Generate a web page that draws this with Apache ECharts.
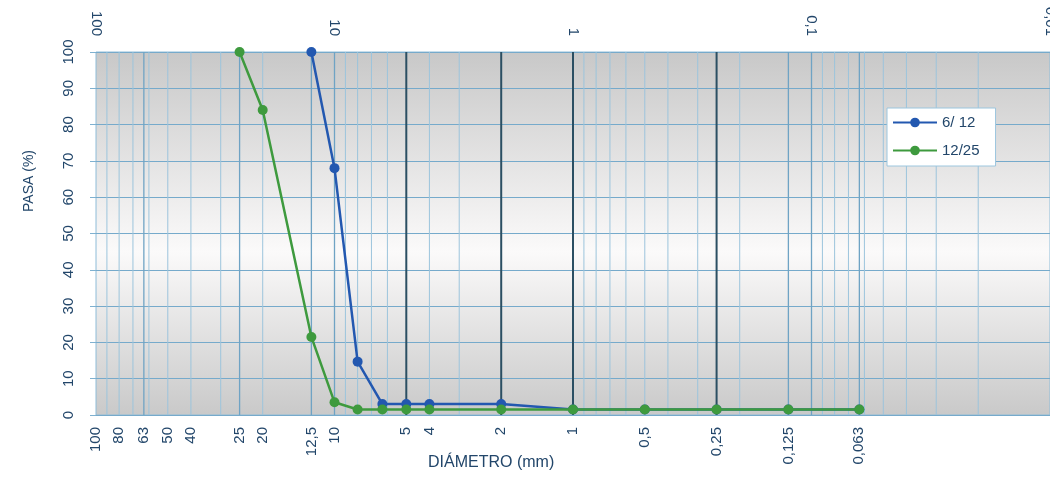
<!DOCTYPE html>
<html>
<head>
<meta charset="utf-8">
<script src="https://cdn.jsdelivr.net/npm/echarts@6/dist/echarts.min.js"></script>
<style>
  html, body { margin: 0; padding: 0; background: #ffffff; }
  #chart { width: 1050px; height: 477px; }
</style>
</head>
<body>
<div id="chart"></div>
<script>
// Sieve openings (mm) labelled along the bottom axis
const sieveSizes = [100, 80, 63, 50, 40, 25, 20, 12.5, 10, 5, 4, 2, 1, 0.5, 0.25, 0.125, 0.063];

// Grading curves: diameter (mm) and percentage passing
const diam612 = [12.5, 10, 8, 6.3, 5, 4, 2, 1, 0.5, 0.25, 0.125, 0.063];
const pasa612 = [100, 68, 14.7, 3, 3, 3, 3, 1.5, 1.5, 1.5, 1.5, 1.5];
const diam1225 = [25, 20, 12.5, 10, 8, 6.3, 5, 4, 2, 1, 0.5, 0.25, 0.125, 0.063];
const pasa1225 = [100, 84, 21.5, 3.5, 1.5, 1.5, 1.5, 1.5, 1.5, 1.5, 1.5, 1.5, 1.5, 1.5];

// Vertical reference lines of the log paper
const minorLines = [90, 80, 70, 60, 50, 40, 30, 20, 9, 8, 7, 6, 4, 3, 0.9, 0.8, 0.7, 0.6, 0.5, 0.4, 0.3, 0.2,
                    0.09, 0.08, 0.07, 0.06, 0.05, 0.04, 0.03, 0.02];
const sieveLines = [63, 25, 12.5, 10, 0.125, 0.1, 0.063];
const mainLines = [5, 2, 1, 0.25];

const textColor = '#22466a';
const fontFamily = '"Liberation Sans", Arial, sans-serif';

const fmt = v => String(v).replace('.', ',');

function zip(xs, ys) { return xs.map((x, i) => [x, ys[i]]); }

function vLineSeries(values, color, width) {
  return {
    type: 'custom',
    silent: true,
    z: 1,
    clip: true,
    data: values.map(v => [v, 0]),
    encode: { x: 0, y: 1 },
    renderItem: function (params, api) {
      const x = api.value(0);
      const p0 = api.coord([x, 0]);
      const p1 = api.coord([x, 100]);
      return {
        type: 'line',
        shape: { x1: p0[0], y1: p0[1], x2: p1[0], y2: p1[1] },
        style: { stroke: color, lineWidth: width }
      };
    }
  };
}

const chart = echarts.init(document.getElementById('chart'), null, { renderer: 'canvas' });

chart.setOption({
  animation: false,
  textStyle: { fontFamily: fontFamily },
  grid: {
    left: 96, right: 0, top: 52, bottom: 62,
    outerBoundsMode: 'none',
    containLabel: false,
    show: true,
    borderColor: '#8ebcd8',
    borderWidth: 1,
    backgroundColor: {
      type: 'linear', x: 0, y: 0, x2: 0, y2: 1,
      colorStops: [
        { offset: 0, color: '#c8c8c8' },
        { offset: 0.55, color: '#fbfafa' },
        { offset: 1, color: '#c9c9c9' }
      ]
    }
  },
  legend: {
    left: 887, top: 108,
    orient: 'vertical',
    backgroundColor: '#ffffff',
    borderColor: '#9cc6de',
    borderWidth: 1,
    borderRadius: 0,
    padding: [7, 16, 8, 5],
    itemWidth: 44,
    itemHeight: 12,
    itemGap: 13,
    data: ['6/ 12', '12/25'],
    textStyle: { color: textColor, fontSize: 15, fontFamily: fontFamily }
  },
  xAxis: [
    {
      type: 'log', logBase: 10, min: 0.01, max: 100, inverse: true,
      position: 'bottom',
      axisLine: { show: false },
      axisTick: { show: false },
      splitLine: { show: false },
      axisLabel: {
        customValues: sieveSizes,
        rotate: 90, margin: 12,
        color: textColor, fontSize: 15,
        formatter: fmt
      }
    },
    {
      type: 'log', logBase: 10, min: 0.01, max: 100, inverse: true,
      position: 'top',
      axisLine: { show: false },
      axisTick: { show: false },
      splitLine: { show: false },
      axisLabel: {
        rotate: 90, margin: 16,
        color: textColor, fontSize: 15,
        showMinLabel: true, showMaxLabel: true,
        formatter: fmt
      }
    }
  ],
  yAxis: {
    type: 'value', min: 0, max: 100, interval: 10,
    axisLine: { show: false },
    axisTick: { show: true, length: 6, lineStyle: { color: '#7fb1d0' } },
    splitLine: { show: true, lineStyle: { color: '#76aacb', width: 1 } },
    axisLabel: { rotate: 90, margin: 20, color: textColor, fontSize: 15 }
  },
  graphic: [
    {
      type: 'text', left: 22, top: 150, rotation: Math.PI / 2,
      style: { text: 'PASA (%)', fill: textColor, font: '14px ' + fontFamily }
    },
    {
      type: 'text', left: 428, top: 455,
      style: { text: 'DIÁMETRO (mm)', fill: textColor, font: '16px ' + fontFamily }
    }
  ],
  series: [
    vLineSeries(minorLines, '#9cc4dc', 1),
    vLineSeries(sieveLines, '#6fa3c4', 1.3),
    vLineSeries(mainLines, '#2b4f63', 2),
    {
      name: '6/ 12', type: 'line', z: 3,
      data: zip(diam612, pasa612),
      symbol: 'circle', symbolSize: 10,
      lineStyle: { color: '#2358b0', width: 2.5 },
      itemStyle: { color: '#2358b0' }
    },
    {
      name: '12/25', type: 'line', z: 4,
      data: zip(diam1225, pasa1225),
      symbol: 'circle', symbolSize: 10,
      lineStyle: { color: '#3e9a3e', width: 2.5 },
      itemStyle: { color: '#3e9a3e' }
    }
  ]
});
</script>
</body>
</html>
